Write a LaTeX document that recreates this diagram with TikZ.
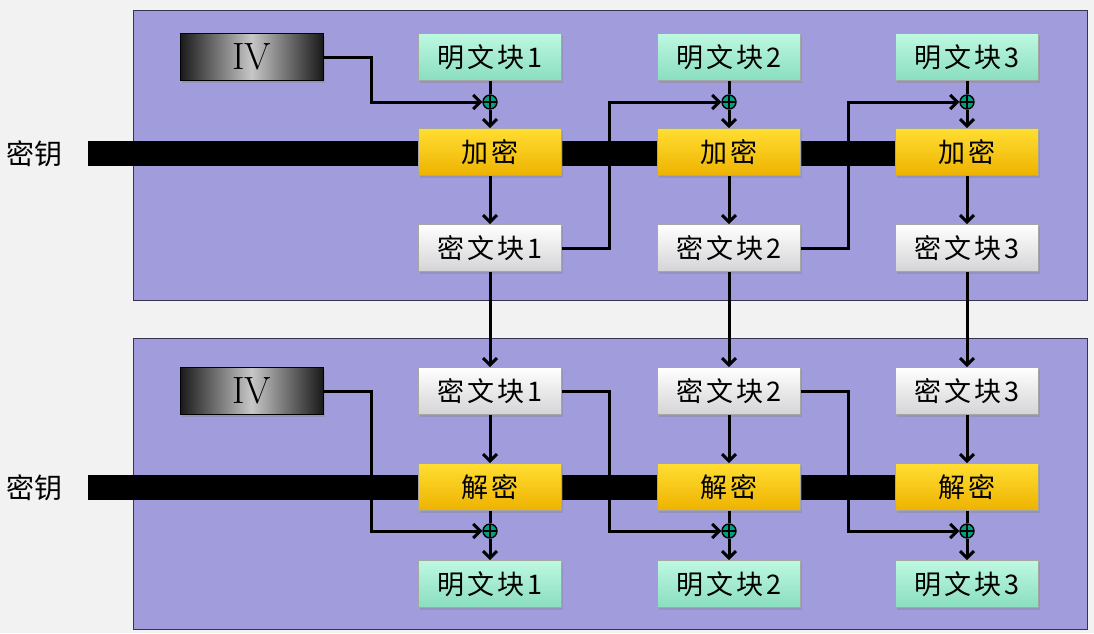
\documentclass[tikz,border=0pt]{standalone}
\usepackage{fontspec}
\usepackage{tikz}
\usetikzlibrary{arrows,arrows.meta,shadows,calc}
\newfontfamily\cjk[LetterSpace=12]{Noto Sans CJK SC}
\newfontfamily\cjkkey{Noto Sans CJK SC}
\definecolor{cbc_bg}{RGB}{242, 242, 242}
\definecolor{cbc_panel}{RGB}{161, 157, 220}
\definecolor{cbc_edge}{RGB}{55, 52, 80}
\definecolor{cbc_mint_t}{RGB}{190, 248, 225}
\definecolor{cbc_mint_b}{RGB}{138, 222, 192}
\definecolor{cbc_gold_t}{RGB}{255, 222, 50}
\definecolor{cbc_gold_b}{RGB}{238, 178, 0}
\definecolor{cbc_grey_b}{RGB}{212, 212, 214}
\definecolor{cbc_xor}{RGB}{0, 160, 128}
\tikzstyle{blk}=[rectangle,draw=black!35,line width=0.6pt,minimum width=143pt,
  minimum height=47pt,inner sep=0pt,font=\fontsize{27}{29}\cjk,
  drop shadow={opacity=0.35,shadow xshift=1.5pt,shadow yshift=-2pt}]
\tikzstyle{pn}=[blk,top color=cbc_mint_t,bottom color=cbc_mint_b]
\tikzstyle{en}=[blk,top color=cbc_gold_t,bottom color=cbc_gold_b]
\tikzstyle{cn}=[blk,top color=white,bottom color=cbc_grey_b]
\tikzstyle{iv}=[blk,draw=black,left color=black!90,right color=black!90,
  middle color=black!22,font=\fontsize{38}{40}\selectfont]
\tikzstyle{xn}=[circle,draw=black,fill=cbc_xor,line width=1.4pt,minimum size=14pt,
  inner sep=0pt,path picture={\draw[line width=1.4pt]
  (path picture bounding box.north) -- (path picture bounding box.south)
  (path picture bounding box.west) -- (path picture bounding box.east);}]
\tikzstyle{panel}=[fill=cbc_panel,draw=cbc_edge,line width=0.8pt]
\tikzstyle{bar}=[fill=black]
\tikzstyle{kn}=[font=\fontsize{28}{30}\cjkkey]
\tikzstyle{wire}=[line width=3pt,draw=black]
\tikzstyle{none}=[]

\begin{document}
\begin{tikzpicture}[x=1pt, y=-1pt, >={Straight Barb[length=7pt,width=14pt]}]
    \useasboundingbox (0, 0) rectangle (1094, 633);
    \fill [cbc_bg] (0, 0) rectangle (1094, 633);
    \draw [style=panel] (133, 10) rectangle (1087, 300);
    \draw [style=panel] (133, 338) rectangle (1087, 629);
    \fill [style=bar] (88, 141) rectangle (967, 166);
    \fill [style=bar] (88, 475) rectangle (967, 500);
            \node [style=kn] (26) at (34, 154) {密钥};
            \node [style=kn] (27) at (34, 488) {密钥};
            % encryption
            \node [style=iv] (0) at (251.5, 57) {IV};
            \node [style=pn] (1) at (490, 57) {明文块1};
            \node [style=pn] (2) at (729, 57) {明文块2};
            \node [style=pn] (3) at (967, 57) {明文块3};
            \node [style=xn] (4) at (490, 102) {};
            \node [style=xn] (5) at (729, 102) {};
            \node [style=xn] (6) at (967, 102) {};
            \node [style=en] (7) at (490, 152) {加密};
            \node [style=en] (8) at (729, 152) {加密};
            \node [style=en] (9) at (967, 152) {加密};
            \node [style=cn] (10) at (490, 248) {密文块1};
            \node [style=cn] (11) at (729, 248) {密文块2};
            \node [style=cn] (12) at (967, 248) {密文块3};
            % decryption
            \node [style=iv] (13) at (251.5, 391) {IV};
            \node [style=cn] (14) at (490, 391) {密文块1};
            \node [style=cn] (15) at (729, 391) {密文块2};
            \node [style=cn] (16) at (967, 391) {密文块3};
            \node [style=en] (17) at (490, 487) {解密};
            \node [style=en] (18) at (729, 487) {解密};
            \node [style=en] (19) at (967, 487) {解密};
            \node [style=xn] (20) at (490, 531) {};
            \node [style=xn] (21) at (729, 531) {};
            \node [style=xn] (22) at (967, 531) {};
            \node [style=pn] (23) at (490, 584) {明文块1};
            \node [style=pn] (24) at (729, 584) {明文块2};
            \node [style=pn] (25) at (967, 584) {明文块3};
            \draw [style=wire] (1) to (4);
            \draw [style=wire] (2) to (5);
            \draw [style=wire] (3) to (6);
            \draw [style=wire, ->] (4) to (7);
            \draw [style=wire, ->] (5) to (8);
            \draw [style=wire, ->] (6) to (9);
            \draw [style=wire, ->] (7) to (10);
            \draw [style=wire, ->] (8) to (11);
            \draw [style=wire, ->] (9) to (12);
            \draw [style=wire, ->] (0.east) -- ++(48, 0) |- (4);
            \draw [style=wire, ->] (10.east) -- ++(48, 0) |- (5);
            \draw [style=wire, ->] (11.east) -- ++(48, 0) |- (6);
            \draw [style=wire, ->] (10) to (14);
            \draw [style=wire, ->] (11) to (15);
            \draw [style=wire, ->] (12) to (16);
            \draw [style=wire, ->] (14) to (17);
            \draw [style=wire, ->] (15) to (18);
            \draw [style=wire, ->] (16) to (19);
            \draw [style=wire] (17) to (20);
            \draw [style=wire] (18) to (21);
            \draw [style=wire] (19) to (22);
            \draw [style=wire, ->] (20) to (23);
            \draw [style=wire, ->] (21) to (24);
            \draw [style=wire, ->] (22) to (25);
            \draw [style=wire, ->] (13.east) -- ++(48, 0) |- (20);
            \draw [style=wire, ->] (14.east) -- ++(48, 0) |- (21);
            \draw [style=wire, ->] (15.east) -- ++(48, 0) |- (22);
    \end{tikzpicture}
\end{document}
